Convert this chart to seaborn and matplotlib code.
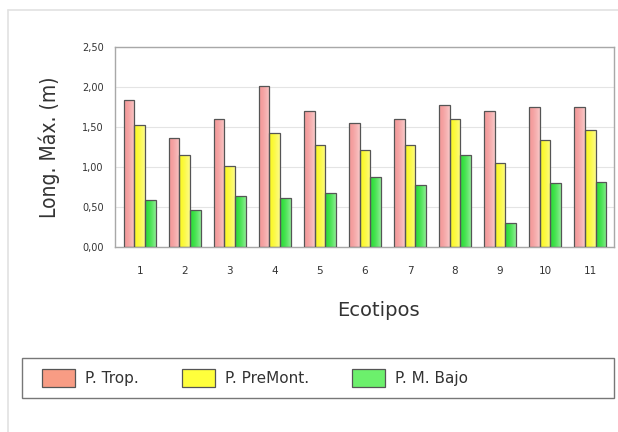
import numpy as np
import pandas as pd
import seaborn as sns
import matplotlib
matplotlib.use("Agg")
import matplotlib.pyplot as plt
from matplotlib.patches import Patch, Rectangle
from matplotlib.lines import Line2D
from matplotlib.colors import to_rgb

# Maximum length (m) per ecotype and life zone
ecotipos = ["1", "2", "3", "4", "5", "6", "7", "8", "9", "10", "11"]
p_trop = [1.84, 1.36, 1.60, 2.01, 1.70, 1.55, 1.60, 1.78, 1.70, 1.75, 1.75]
p_premont = [1.52, 1.15, 1.01, 1.42, 1.28, 1.21, 1.28, 1.60, 1.05, 1.34, 1.46]
p_m_bajo = [0.59, 0.46, 0.64, 0.61, 0.67, 0.88, 0.78, 1.15, 0.30, 0.80, 0.81]

series_names = ["P. Trop.", "P. PreMont.", "P. M. Bajo"]
y_ticks = [0.0, 0.5, 1.0, 1.5, 2.0, 2.5]
y_tick_labels = ["0,00", "0,50", "1,00", "1,50", "2,00", "2,50"]

bar_colors = ["#f39494", "#fbf81a", "#1fdc2c"]
legend_colors = ["#f89c84", "#ffff3c", "#6cf06c"]
edge = "#555555"

df = pd.DataFrame({
    "Ecotipo": ecotipos * 3,
    "Serie": np.repeat(series_names, len(ecotipos)),
    "Valor": p_trop + p_premont + p_m_bajo,
})

sns.set_theme(style="white")
plt.rcParams["font.family"] = ["DejaVu Sans"]

fig = plt.figure(figsize=(6.18, 4.32), dpi=100)
fig.patch.set_facecolor("white")
ax = fig.add_axes([115 / 618, 1 - 247 / 432, (614 - 115) / 618, 200 / 432])

sns.barplot(data=df, x="Ecotipo", y="Valor", hue="Serie", order=ecotipos,
            hue_order=series_names, palette=bar_colors, width=0.72,
            edgecolor=edge, linewidth=0.9, saturation=1, legend=False, ax=ax)

# Shade each bar with a soft left-to-right gradient, clipped to the bar
for p in list(ax.patches):
    x0, y0 = p.get_x(), p.get_y()
    w, h = p.get_width(), p.get_height()
    if h <= 0:
        continue
    base = np.array(to_rgb(p.get_facecolor()))
    t = np.linspace(0, 1, 40)
    mix = np.clip(0.05 + 0.45 * t ** 1.6, 0, 1)
    mix[:5] = [0.0, 0.1, 0.2, 0.2, 0.12]
    row = base[None, :] * (1 - mix[:, None]) + mix[:, None]
    img = row[None, :, :]
    im = ax.imshow(img, extent=[x0, x0 + w, y0, y0 + h], aspect="auto",
                   origin="lower", zorder=2.5, interpolation="bilinear")
    im.set_clip_path(p)
    p.set_facecolor("none")
    p.set_zorder(3)

ax.set_xlim(-0.55, 10.53)
ax.set_ylim(0, 2.5)
ax.set_aspect("auto")
ax.set_yticks(y_ticks)
ax.set_yticklabels(y_tick_labels, fontsize=7, color="#333333")
ax.tick_params(axis="x", labelsize=7.5, colors="#333333", pad=14, length=0)
ax.tick_params(axis="y", pad=8, length=0)
ax.yaxis.grid(True, color="#e4e4e4", linewidth=0.8)
ax.set_axisbelow(True)
for s in ax.spines.values():
    s.set_color("#a8a8a8")
    s.set_linewidth(1.0)

ax.set_xlabel("Ecotipos", fontsize=14, color="#333333")
ax.xaxis.set_label_coords((378 - 115) / (614 - 115), -0.27)
ax.set_ylabel("Long. Máx. (m)", fontsize=15, color="#333333", fontstretch="condensed")
ax.yaxis.set_label_coords(-(115 - 60) / (614 - 115), 0.5)

# Legend box spanning the width below the chart
fig.add_artist(Rectangle((22 / 618, 1 - 398 / 432), (614 - 22) / 618, 40 / 432,
                         transform=fig.transFigure, facecolor="white",
                         edgecolor="#777777", linewidth=1.0))
handles = [Patch(facecolor=c, edgecolor=edge, linewidth=0.9) for c in legend_colors]
fig.legend(handles, series_names, loc="center left",
           bbox_to_anchor=(28 / 618, 1 - 378 / 432), ncol=3, frameon=False,
           fontsize=11, handlelength=2.15, handleheight=1.5, handletextpad=0.65,
           columnspacing=2.85, labelcolor="#333333")

# Thin frame lines around the panel
fig.add_artist(Line2D([8 / 618, 8 / 618], [0, 1 - 10 / 432], transform=fig.transFigure,
                      color="#e2e2e2", linewidth=1.2))
fig.add_artist(Line2D([8 / 618, 1], [1 - 10 / 432, 1 - 10 / 432], transform=fig.transFigure,
                      color="#e2e2e2", linewidth=1.2))

fig.savefig("out.png", dpi=100)
